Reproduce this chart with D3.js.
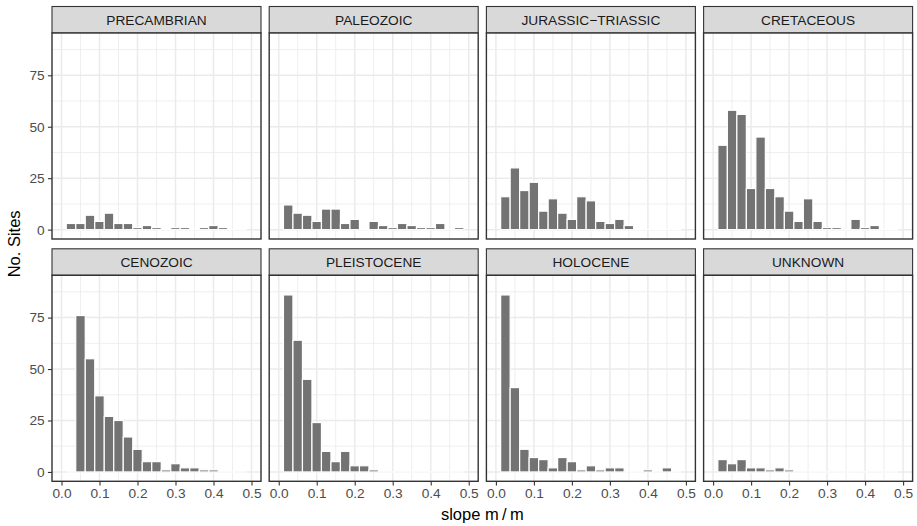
<!DOCTYPE html>
<html>
<head>
<meta charset="utf-8">
<script src="https://cdn.jsdelivr.net/npm/d3@7"></script>
<style>
  body { margin: 0; background: #ffffff; }
  svg text { font-family: "Liberation Sans", Arial, Helvetica, sans-serif; }
</style>
</head>
<body>
<svg id="chart" width="917" height="526"></svg>
<script>
// Histogram panels: number of sites per slope bin, one panel per geologic era.
const eras = ["PRECAMBRIAN", "PALEOZOIC", "JURASSIC\u2212TRIASSIC", "CRETACEOUS",
              "CENOZOIC", "PLEISTOCENE", "HOLOCENE", "UNKNOWN"];

// Slope bin centres (m/m); each bin is 0.025 wide.
const binWidth = 0.025;
const binCenters = [0.025, 0.05, 0.075, 0.1, 0.125, 0.15, 0.175, 0.2, 0.225, 0.25,
                    0.275, 0.3, 0.325, 0.35, 0.375, 0.4, 0.425, 0.45, 0.475];

// Site counts per bin, one array per era.
const precambrian      = [3, 3, 7, 4, 8, 3, 3, 1, 2, 1, 0, 1, 1, 0, 1, 2, 1, 0, 0];
const paleozoic        = [12, 8, 7, 4, 10, 10, 3, 5, 0, 4, 2, 1, 3, 2, 1, 1, 3, 0, 1];
const jurassicTriassic = [16, 30, 19, 23, 9, 15, 8, 5, 16, 14, 4, 3, 5, 2, 0, 0, 0, 0, 0];
const cretaceous       = [41, 58, 56, 20, 45, 20, 16, 9, 4, 15, 4, 1, 1, 0, 5, 1, 2, 0, 0];
const cenozoic         = [0, 76, 55, 37, 27, 25, 17, 11, 5, 5, 1, 4, 2, 2, 1, 1, 0, 0, 0];
const pleistocene      = [86, 64, 45, 24, 10, 5, 10, 3, 3, 1, 0, 0, 0, 0, 0, 0, 0, 0, 0];
const holocene         = [86, 41, 11, 7, 6, 2, 7, 5, 1, 3, 1, 2, 2, 0, 0, 1, 0, 2, 0];
const unknown          = [6, 4, 6, 2, 2, 1, 2, 1, 0, 0, 0, 0, 0, 0, 0, 0, 0, 0, 0];

const countsByEra = [precambrian, paleozoic, jurassicTriassic, cretaceous,
                     cenozoic, pleistocene, holocene, unknown];

// Axis ticks
const xTicks = [0, 0.1, 0.2, 0.3, 0.4, 0.5];
const xMinor = [0.05, 0.15, 0.25, 0.35, 0.45];
const yTicks = [0, 25, 50, 75];
const yMinor = [12.5, 37.5, 62.5, 87.5];

const xTitle = "slope m\u2009/\u2009m";
const yTitle = "No. Sites";

// Layout
const nCols = 4;
const panelW = 209, panelH = 206, stripH = 26.5;
const left0 = 52, top0 = 6.5;
const colStep = 217.2, rowStep = 242.3;
const tickLen = 4.1, tickPad = 3.3;
const smallFont = 13.7, titleFont = 16.5;

const x = d3.scaleLinear().domain([-0.025, 0.525]).range([0, panelW]);
const y = d3.scaleLinear().domain([-4.55, 95.55]).range([panelH, 0]);

const svg = d3.select("#chart");
svg.append("rect").attr("width", 917).attr("height", 526).attr("fill", "#ffffff");

eras.forEach((era, i) => {
  const col = i % nCols, row = Math.floor(i / nCols);
  const stripTop = top0 + row * rowStep;
  const px = left0 + col * colStep;
  const py = stripTop + stripH;
  const counts = countsByEra[i];

  // strip
  const strip = svg.append("g").attr("transform", `translate(${px},${stripTop})`);
  strip.append("rect")
    .attr("width", panelW).attr("height", stripH)
    .attr("fill", "#D9D9D9").attr("stroke", "#333333").attr("stroke-width", 1.1);
  strip.append("text")
    .attr("x", panelW / 2).attr("y", stripH / 2)
    .attr("dy", "0.35em").attr("text-anchor", "middle")
    .attr("font-size", smallFont).attr("fill", "#1A1A1A")
    .text(era);

  const g = svg.append("g").attr("transform", `translate(${px},${py})`);
  g.append("rect").attr("width", panelW).attr("height", panelH).attr("fill", "#ffffff");

  // grid
  const grid = g.append("g");
  grid.selectAll("line.xmin").data(xMinor).enter().append("line")
    .attr("x1", d => x(d)).attr("x2", d => x(d)).attr("y1", 0).attr("y2", panelH)
    .attr("stroke", "#EBEBEB").attr("stroke-width", 0.8);
  grid.selectAll("line.ymin").data(yMinor).enter().append("line")
    .attr("y1", d => y(d)).attr("y2", d => y(d)).attr("x1", 0).attr("x2", panelW)
    .attr("stroke", "#EBEBEB").attr("stroke-width", 0.8);
  grid.selectAll("line.xmaj").data(xTicks).enter().append("line")
    .attr("x1", d => x(d)).attr("x2", d => x(d)).attr("y1", 0).attr("y2", panelH)
    .attr("stroke", "#EBEBEB").attr("stroke-width", 1.5);
  grid.selectAll("line.ymaj").data(yTicks).enter().append("line")
    .attr("y1", d => y(d)).attr("y2", d => y(d)).attr("x1", 0).attr("x2", panelW)
    .attr("stroke", "#EBEBEB").attr("stroke-width", 1.5);

  // bars
  const bins = binCenters.map((c, k) => ({ c, n: counts[k] }));
  g.selectAll("rect.bar").data(bins.filter(b => b.n > 0)).enter().append("rect")
    .attr("class", "bar")
    .attr("x", b => x(b.c - binWidth / 2))
    .attr("width", b => x(b.c + binWidth / 2) - x(b.c - binWidth / 2))
    .attr("y", b => y(b.n))
    .attr("height", b => y(0) - y(b.n))
    .attr("fill", "#737373").attr("stroke", "#ffffff").attr("stroke-width", 1.2);
  // empty bins keep their white outline along the baseline
  g.selectAll("line.empty").data(bins.filter(b => b.n === 0)).enter().append("line")
    .attr("x1", b => x(b.c - binWidth / 2)).attr("x2", b => x(b.c + binWidth / 2))
    .attr("y1", y(0)).attr("y2", y(0))
    .attr("stroke", "#ffffff").attr("stroke-width", 1.2);

  // border
  g.append("rect").attr("width", panelW).attr("height", panelH)
    .attr("fill", "none").attr("stroke", "#333333").attr("stroke-width", 1.4);

  // axes
  if (col === 0) {
    const ay = g.append("g").call(d3.axisLeft(y).tickValues(yTicks)
      .tickFormat(d3.format("d")).tickSize(tickLen).tickPadding(tickPad));
    ay.select(".domain").remove();
    ay.selectAll("line").attr("stroke", "#333333").attr("stroke-width", 1.1);
    ay.selectAll("text").attr("font-size", smallFont).attr("fill", "#4D4D4D")
      .attr("font-family", "Liberation Sans, Arial, sans-serif");
  }
  if (row === 1) {
    const ax = g.append("g").attr("transform", `translate(0,${panelH})`)
      .call(d3.axisBottom(x).tickValues(xTicks)
      .tickFormat(d3.format(".1f")).tickSize(tickLen).tickPadding(tickPad));
    ax.select(".domain").remove();
    ax.selectAll("line").attr("stroke", "#333333").attr("stroke-width", 1.1);
    ax.selectAll("text").attr("font-size", smallFont).attr("fill", "#4D4D4D")
      .attr("font-family", "Liberation Sans, Arial, sans-serif");
  }
});

// axis titles
const plotLeft = left0, plotRight = left0 + 3 * colStep + panelW;
const plotTop = top0, plotBottom = top0 + rowStep + stripH + panelH;
svg.append("text")
  .attr("x", (plotLeft + plotRight) / 2).attr("y", 520)
  .attr("text-anchor", "middle").attr("font-size", titleFont).attr("fill", "#000000")
  .text(xTitle);
svg.append("text")
  .attr("transform", `translate(20,${(plotTop + plotBottom) / 2}) rotate(-90)`)
  .attr("text-anchor", "middle").attr("font-size", titleFont).attr("fill", "#000000")
  .text(yTitle);
</script>
</body>
</html>
